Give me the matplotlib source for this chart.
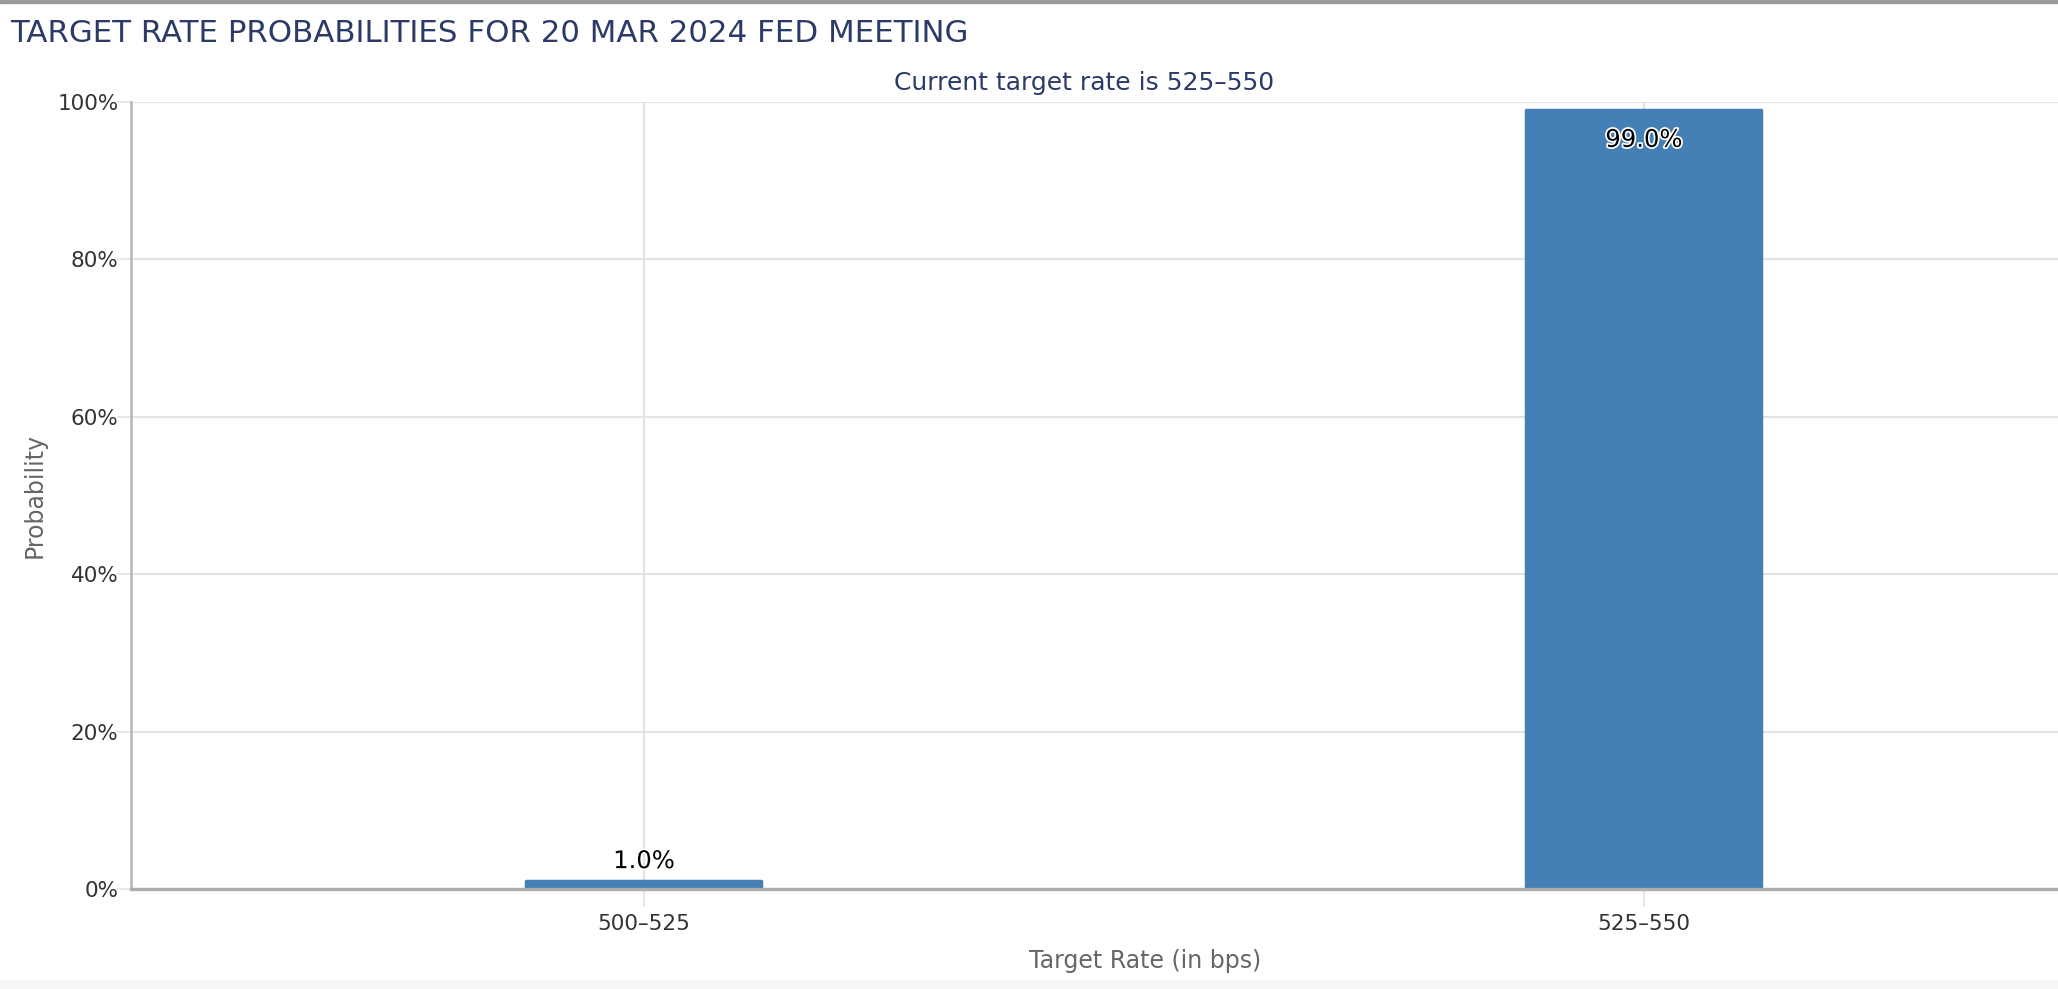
import matplotlib
matplotlib.use("Agg")
import matplotlib.pyplot as plt
import matplotlib.patheffects as pe
from matplotlib.patches import Rectangle
from matplotlib.ticker import FuncFormatter

# data
categories = ["500\u2013525", "525\u2013550"]
probabilities = [1.0, 99.0]
y_ticks = [0, 20, 40, 60, 80, 100]

title = "TARGET RATE PROBABILITIES FOR 20 MAR 2024 FED MEETING"
subtitle = "Current target rate is 525\u2013550"

W, H = 2058, 989
BAR = "#4480b5"
NAVY = "#2b3a67"
GRID = "#e3e3e3"

fig = plt.figure(figsize=(W / 100, H / 100), dpi=100)
fig.patch.set_facecolor("white")

# plot area in pixel terms, right part of the chart is cut off by the screenshot
left_px, right_px, top_px, bottom_px = 131, 2159, 102, 889
ax = fig.add_axes([left_px / W, (H - bottom_px) / H,
                   (right_px - left_px) / W, (bottom_px - top_px) / H])

x = list(range(len(categories)))
ax.bar(x, probabilities, width=0.235, color=BAR, edgecolor=BAR,
       linewidth=2.5, joinstyle="round", zorder=3)

ax.set_xlim(-0.513, 1.515)
ax.set_ylim(0, 100)
ax.set_xticks(x)
ax.set_xticklabels(categories)
ax.set_yticks(y_ticks)
ax.yaxis.set_major_formatter(FuncFormatter(lambda v, _: f"{v:.0f}%"))

ax.grid(True, color=GRID, linewidth=1.5, zorder=0)
ax.set_axisbelow(True)
for side in ("top", "right"):
    ax.spines[side].set_visible(False)
ax.spines["left"].set_color("#b5b5b5")
ax.spines["left"].set_linewidth(1.8)
ax.spines["bottom"].set_color("#adadad")
ax.spines["bottom"].set_linewidth(2.4)
ax.spines["bottom"].set_zorder(4)

ax.tick_params(axis="x", length=13, width=1.2, color=GRID, pad=5,
               labelsize=15.5, labelcolor="#333333")
ax.tick_params(axis="y", length=10, width=1.2, color=GRID, pad=-1,
               labelsize=15.5, labelcolor="#333333")
for lbl in ax.get_yticklabels():
    lbl.set_va("center_baseline")

ax.set_xlabel("Target Rate (in bps)", fontsize=17, color="#666666", labelpad=11)
ax.set_ylabel("Probability", fontsize=17, color="#666666", labelpad=8)

# data labels
for xi, val in zip(x, probabilities):
    off = -30 if val > 90 else 20
    ax.annotate(f"{val:.1f}%", xy=(xi, val), xytext=(0, off),
                textcoords="offset pixels", ha="center", va="center",
                fontsize=17.5, color="black", zorder=5,
                path_effects=[pe.withStroke(linewidth=2.5, foreground="white")])

# title and subtitle
fig.text(10 / W, 1 - 34 / H, title, fontsize=22.2, color=NAVY,
         ha="left", va="center")
fig.text(1084 / W, 1 - 83 / H, subtitle, fontsize=18, color=NAVY,
         ha="center", va="center")

# page frame bits: top border and bottom strip
fig.patches.append(Rectangle((0, 1 - 3 / H), 1, 3 / H, transform=fig.transFigure,
                             color="#9a9a9a", zorder=10))
fig.patches.append(Rectangle((0, 0), 1, 9 / H, transform=fig.transFigure,
                             color="#f6f6f6", zorder=10))

fig.savefig("out.png", dpi=100)
